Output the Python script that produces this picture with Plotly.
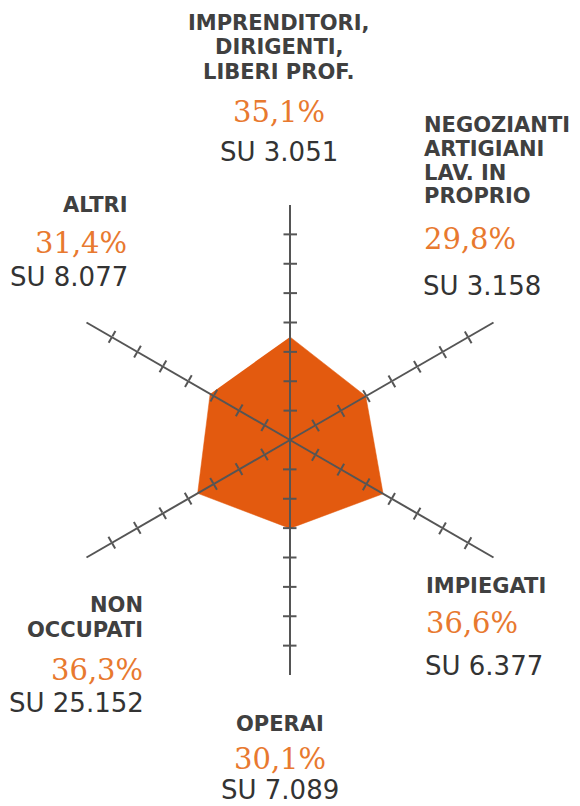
import plotly.graph_objects as go

# ---------------- data ----------------
categories = ["IMPRENDITORI, DIRIGENTI, LIBERI PROF.",
              "NEGOZIANTI ARTIGIANI LAV. IN PROPRIO",
              "IMPIEGATI",
              "OPERAI",
              "NON OCCUPATI",
              "ALTRI"]
label_lines = [["IMPRENDITORI,", "DIRIGENTI,", "LIBERI PROF."],
               ["NEGOZIANTI", "ARTIGIANI", "LAV. IN", "PROPRIO"],
               ["IMPIEGATI"],
               ["OPERAI"],
               ["NON", "OCCUPATI"],
               ["ALTRI"]]
percent = [35.1, 29.8, 36.6, 30.1, 36.3, 31.4]
totals = ["3.051", "3.158", "6.377", "7.089", "25.152", "8.077"]
axis_ticks = [10, 20, 30, 40, 50, 60, 70]
axis_max = 80

# ---------------- layout / style ----------------
# the page body has an 8px default margin, so the figure is drawn 8px in
OFF = 8
W, H = 580 - OFF, 806 - OFF
CX, CY, R = 290 - OFF, 440 - OFF, 235   # chart centre and radius in px
FILL = "#E35A0F"
AXIS = "#555555"
ORANGE = "#E8792F"
LABEL = "#404040"
SUB = "#333333"

# text placement per category (screen px): x, xanchor, y of each label line, pct y, su y
placement = [
    dict(x=279, xa="center", lines=[22.5, 47, 71.5], pct=112.5, su=152.5),
    dict(x=422, xa="left", lines=[125, 149, 173, 196.5], pct=238.5, su=286),
    dict(x=424, xa="left", lines=[586], pct=623, su=665.5),
    dict(x=280, xa="center", lines=[724], pct=759, su=790),
    dict(x=145, xa="right", lines=[605, 630], pct=670, su=702.5),
    dict(x=129, xa="right", lines=[205], pct=243, su=276.5),
]

dom_x = [(CX - R) / W, (CX + R) / W]
dom_y = [(H - CY - R) / H, (H - CY + R) / H]

fig = go.Figure()
fig.add_trace(go.Scatterpolar(
    r=percent, theta=categories, fill="toself", fillcolor=FILL,
    mode="lines", line=dict(color=FILL, width=0.5),
    hoverinfo="skip", subplot="polar"))

layout = dict(
    width=W, height=H, margin=dict(l=0, r=0, t=0, b=0),
    paper_bgcolor="white", plot_bgcolor="white", showlegend=False,
    template="none",
)
layout["polar"] = dict(
    domain=dict(x=dom_x, y=dom_y), bgcolor="rgba(0,0,0,0)",
    radialaxis=dict(range=[0, axis_max], visible=False),
    angularaxis=dict(rotation=90, direction="clockwise", visible=False,
                     categoryorder="array", categoryarray=categories),
)

spoke_angles = [90, 30, -30, -90, 210, 150]
n = 2
for side_ticks in ["outside", "inside"]:
    for ang in spoke_angles:
        name = f"polar{n}"
        fig.add_trace(go.Scatterpolar(r=[], theta=[], mode="markers",
                                      hoverinfo="skip", subplot=name))
        layout[name] = dict(
            domain=dict(x=dom_x, y=dom_y), bgcolor="rgba(0,0,0,0)",
            radialaxis=dict(range=[0, axis_max], angle=ang,
                            showline=(side_ticks == "outside"),
                            linecolor=AXIS, linewidth=2,
                            showgrid=False, showticklabels=False,
                            ticks=side_ticks, ticklen=6, tickwidth=2,
                            tickcolor=AXIS, tickvals=axis_ticks),
            angularaxis=dict(visible=False, showgrid=False),
        )
        n += 1

annotations = []
def xp(px):
    return (px - OFF) / W
def yp(px):
    return 1 - (px - OFF) / H

for i, p in enumerate(placement):
    for txt, ly in zip(label_lines[i], p["lines"]):
        annotations.append(dict(
            x=xp(p["x"]), y=yp(ly), xref="paper", yref="paper",
            xanchor=p["xa"], yanchor="middle", showarrow=False, text=txt,
            font=dict(family="DejaVu Sans", size=21, color=LABEL, weight="bold")))
    pct_txt = f"{percent[i]:.1f}".replace(".", ",") + "%"
    annotations.append(dict(
        x=xp(p["x"]), y=yp(p["pct"]), xref="paper", yref="paper",
        xanchor=p["xa"], yanchor="middle", showarrow=False, text=pct_txt,
        font=dict(family="DejaVu Serif", size=29, color=ORANGE)))
    annotations.append(dict(
        x=xp(p["x"]), y=yp(p["su"]), xref="paper", yref="paper",
        xanchor=p["xa"], yanchor="middle", showarrow=False, text="SU " + totals[i],
        borderpad=0,
        font=dict(family="DejaVu Sans", size=26, color=SUB)))

layout["annotations"] = annotations
fig.update_layout(**layout)
fig.write_html("out.html")
